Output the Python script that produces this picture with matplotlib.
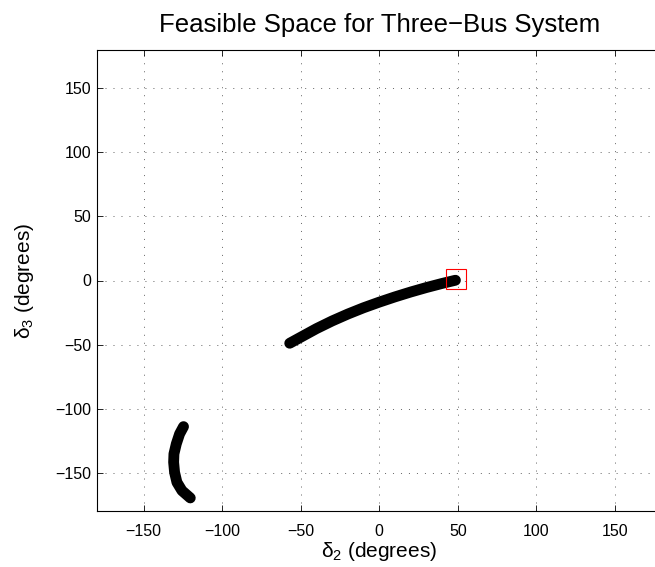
import matplotlib
matplotlib.use("Agg")
import matplotlib.pyplot as plt

plt.rcParams['font.family'] = ['Liberation Sans', 'DejaVu Sans']
plt.rcParams['mathtext.fontset'] = 'custom'
plt.rcParams['mathtext.rm'] = 'Liberation Sans'
plt.rcParams['mathtext.it'] = 'Liberation Sans'

# feasible branch near the operating point (degrees)
delta2_main = [-57, -50, -40, -30, -20, -10, 0, 10, 20, 30, 40, 48.5]
delta3_main = [-49, -44.3, -37.6, -31.6, -26.2, -21.3, -16.9, -12.8, -9.0, -5.5, -2.3, 0.2]

# second (lower-left) branch
delta2_arc = [-124.6, -127.1, -129.2, -130.7, -130.9, -130.3, -128.8, -125.6, -120.3]
delta3_arc = [-114.1, -119.8, -127.6, -135.4, -141.9, -149.8, -157.6, -164.1, -169.8]

# operating point
op_d2 = [48.7]
op_d3 = [0.8]

ticks = [-150, -100, -50, 0, 50, 100, 150]

fig = plt.figure(figsize=(6.55, 5.67), dpi=100)
# right edge of the axes sits just past the figure edge (cropped like the original)
ax = fig.add_axes([96.5 / 655, 56 / 567, 565.5 / 655, 461 / 567])

ax.plot(delta2_main, delta3_main, color='black', lw=7.8, solid_capstyle='round',
        solid_joinstyle='round', zorder=3)
ax.plot(delta2_arc, delta3_arc, color='black', lw=7.8, solid_capstyle='round',
        solid_joinstyle='round', zorder=3)
ax.plot(op_d2, op_d3, linestyle='none', marker='s', markersize=13.7,
        markerfacecolor='none', markeredgecolor='red', markeredgewidth=0.8, zorder=4)

ax.set_xlim(-180, 180)
ax.set_ylim(-180, 180)
ax.set_xticks(ticks)
ax.set_yticks(ticks)

ax.grid(True, color='0.2', linestyle=(0, (1.5, 10)), linewidth=0.5)
ax.tick_params(direction='in', length=4, width=0.6, top=True, right=False,
               labelsize=11.5, colors='black')
ax.tick_params(axis='x', pad=9)
ax.tick_params(axis='y', pad=4)
for sp in ax.spines.values():
    sp.set_linewidth(0.8)
ax.spines['right'].set_visible(False)

ax.set_title('Feasible Space for Three\u2212Bus System', fontsize=18.5, pad=13)
ax.set_xlabel(r'$\delta_2$ (degrees)', fontsize=15, labelpad=1)
ax.set_ylabel(r'$\delta_3$ (degrees)', fontsize=15, labelpad=14)

fig.savefig('out.png', dpi=100)
